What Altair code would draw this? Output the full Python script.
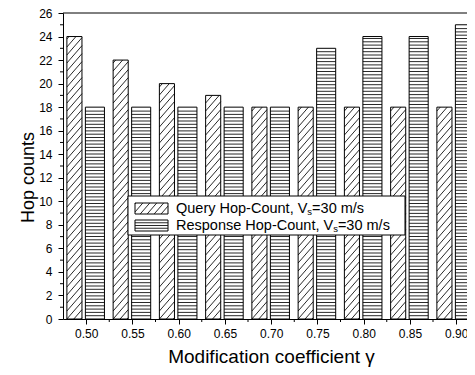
import altair as alt
import pandas as pd
import numpy as np

# ---------------- data ----------------
gamma = [0.50, 0.55, 0.60, 0.65, 0.70, 0.75, 0.80, 0.85, 0.90]
query_hops = [24, 22, 20, 19, 18, 18, 18, 18, 18]
response_hops = [18, 18, 18, 18, 18, 23, 24, 24, 25]
y_ticks = list(range(0, 27, 2))
y_minor = list(range(1, 26, 2))
x_minor = [0.525, 0.575, 0.625, 0.675, 0.725, 0.775, 0.825, 0.875]
legend_labels = ["Query Hop-Count, V", "Response Hop-Count, V"]
legend_sub = "s"
legend_tail = "=30 m/s"

# ---------------- layout / style ----------------
FONT = "Liberation Sans"
TOP_PAD = 5
W, H = 404, 306
PX_PER_X = 46.25 / 0.05
X_MIN = 0.475
X_MAX = X_MIN + W / PX_PER_X
Y_MAX = 26
PX_PER_Y = H / Y_MAX
QUERY_OFF = (-0.0208, -0.0045)
RESP_OFF = (-0.0008, 0.0198)
SLOPE, GAP = 1.15, 8.0
HGAP = 3.3

xs = alt.Scale(domain=[X_MIN, X_MAX], nice=False, zero=False)
ys = alt.Scale(domain=[0, Y_MAX], nice=False, zero=False)

xaxis = alt.Axis(values=gamma, format=".2f", tickSize=5, labelPadding=4, labelFlush=False,
                 title="Modification coefficient  γ", titleFontSize=19, titleX=208, titleY=43,
                 titleBaseline="alphabetic", labelFontSize=12)
yaxis = alt.Axis(values=y_ticks, tickSize=5, labelPadding=6, title="Hop counts",
                 titleFontSize=18, titleX=-30, titleY=164, titleBaseline="alphabetic",
                 labelFontSize=12)


def diag(w, h, phase=0.0):
    segs = []
    start = phase - GAP * np.ceil((SLOPE * w + phase) / GAP)
    for c in np.arange(start, h, GAP):
        a = max(0.0, -c / SLOPE)
        b = min(w, (h - c) / SLOPE)
        if b - a > 0.3:
            segs.append((a, SLOPE * a + c, b, SLOPE * b + c))
    return segs


def dx(px):
    return X_MIN + px / PX_PER_X


def dy(py):
    return Y_MAX - py / PX_PER_Y


bars, hatch = [], []
for g, q, r in zip(gamma, query_hops, response_hops):
    x0, x1 = g + QUERY_OFF[0], g + QUERY_OFF[1]
    bars.append(dict(x=x0, x2=x1, y=0, y2=q))
    w, h = (x1 - x0) * PX_PER_X, q * PX_PER_Y
    for a, ya, b, yb in diag(w, h):
        hatch.append(dict(x=x0 + a / PX_PER_X, x2=x0 + b / PX_PER_X,
                          y=ya / PX_PER_Y, y2=yb / PX_PER_Y))
    x0, x1 = g + RESP_OFF[0], g + RESP_OFF[1]
    bars.append(dict(x=x0, x2=x1, y=0, y2=r))
    h = r * PX_PER_Y
    for yp in np.arange(HGAP, h - 0.8, HGAP):
        hatch.append(dict(x=x0, x2=x1, y=yp / PX_PER_Y, y2=yp / PX_PER_Y))

bars_df = pd.DataFrame(bars)
hatch_df = pd.DataFrame(hatch)

# legend geometry in page pixels -> plot pixels
OY = 8 + TOP_PAD
BOX = (65, 196 - OY, 342, 235 - OY)
SW = [(72, 203 - OY, 105, 214 - OY), (72, 220 - OY, 105, 231 - OY)]
TXT_X, TXT_Y = [113, 113], [213 - OY, 230 - OY]

leg_lines = []
sx0, sy0, sx1, sy1 = SW[0]
for a, ya, b, yb in diag(sx1 - sx0, sy1 - sy0, phase=2):
    leg_lines.append(dict(x=dx(sx0 + a), x2=dx(sx0 + b), y=dy(sy1 - ya), y2=dy(sy1 - yb)))
sx0, sy0, sx1, sy1 = SW[1]
for yp in np.arange(sy0 + 2.75, sy1 - 1, 2.75):
    leg_lines.append(dict(x=dx(sx0), x2=dx(sx1), y=dy(yp), y2=dy(yp)))
leg_df = pd.DataFrame(leg_lines)

ARIAL = {"Q": 778, "u": 556, "e": 556, "r": 333, "y": 500, " ": 278, "H": 722,
         "o": 556, "p": 556, "-": 333, "C": 722, "n": 556, "t": 278, ",": 278,
         "V": 667, "R": 722, "s": 500, "=": 584, "3": 556, "0": 556, "m": 833, "/": 278}


def tw(s, size):
    return sum(ARIAL.get(ch, 556) for ch in s) * size / 1000.0


LFS = 14.5
SFS = 9.5
texts = []
for lab, tx, ty in zip(legend_labels, TXT_X, TXT_Y):
    w1 = tw(lab, LFS)
    texts.append(dict(t=lab, x=dx(tx), y=dy(ty), fs=LFS))
    texts.append(dict(t=legend_sub, x=dx(tx + w1), y=dy(ty + 1.5), fs=SFS))
    texts.append(dict(t=legend_tail, x=dx(tx + w1 + tw(legend_sub, SFS)), y=dy(ty), fs=LFS))
txt_df = pd.DataFrame(texts)

one = pd.DataFrame({"a": [0]})

X = lambda f: alt.X(f, type="quantitative", scale=xs, axis=xaxis)
Y = lambda f: alt.Y(f, type="quantitative", scale=ys, axis=yaxis)

base_bars = alt.Chart(bars_df).mark_rect(fill="white", stroke=None, clip=True).encode(
    x=X("x"), x2="x2:Q", y=Y("y"), y2="y2:Q")

hatch_layer = alt.Chart(hatch_df).mark_rule(color="#111", strokeWidth=0.9, clip=True).encode(
    x=X("x"), x2="x2:Q", y=Y("y"), y2="y2:Q")

outline = alt.Chart(bars_df).mark_rect(fill=None, stroke="black", strokeWidth=1, clip=True).encode(
    x=X("x"), x2="x2:Q", y=Y("y"), y2="y2:Q")

y_minor_df = pd.DataFrame({"y": y_minor})
ymin = alt.Chart(y_minor_df).mark_rule(color="black").encode(
    y=Y("y"), x=alt.value(-3), x2=alt.value(0))
x_minor_df = pd.DataFrame({"x": x_minor})
xmin = alt.Chart(x_minor_df).mark_rule(color="black").encode(
    x=X("x"), y=alt.value(H), y2=alt.value(H + 3))

top = alt.Chart(one).mark_rule(color="black").encode(
    x=alt.value(0), x2=alt.value(W), y=alt.value(0))

box = alt.Chart(one).mark_rect(fill="white", stroke="black", strokeWidth=1).encode(
    x=alt.value(BOX[0]), x2=alt.value(BOX[2]), y=alt.value(BOX[1]), y2=alt.value(BOX[3]))
sw_df = pd.DataFrame({"x": [dx(s[0]) for s in SW], "x2": [dx(s[2]) for s in SW],
                      "y": [dy(s[1]) for s in SW], "y2": [dy(s[3]) for s in SW]})
swatch = alt.Chart(sw_df).mark_rect(fill="white", stroke="black", strokeWidth=1).encode(
    x=X("x"), x2="x2:Q", y=Y("y"), y2="y2:Q")
swl = alt.Chart(leg_df).mark_rule(color="#111", strokeWidth=0.9).encode(
    x=X("x"), x2="x2:Q", y=Y("y"), y2="y2:Q")
legtext = alt.Chart(txt_df).mark_text(align="left", baseline="alphabetic", font=FONT,
                                      color="black").encode(
    x=X("x"), y=Y("y"), text="t:N",
    size=alt.Size("fs:Q", scale=None, legend=None))

chart = alt.layer(base_bars, hatch_layer, outline, ymin, xmin, top, box, swatch, swl, legtext).properties(
    width=W, height=H,
    autosize=alt.AutoSizeParams(type="none"),
    padding={"left": 55, "top": TOP_PAD, "right": 0, "bottom": 359 - TOP_PAD - H},
).configure_view(stroke=None).configure_axis(
    labelFont=FONT, titleFont=FONT, labelColor="black", titleColor="black",
    domainColor="black", tickColor="black", grid=False, titleFontWeight="normal",
    domainWidth=1, tickWidth=1,
)

chart.save("out.html", embed_options={"renderer": "svg", "actions": False})
